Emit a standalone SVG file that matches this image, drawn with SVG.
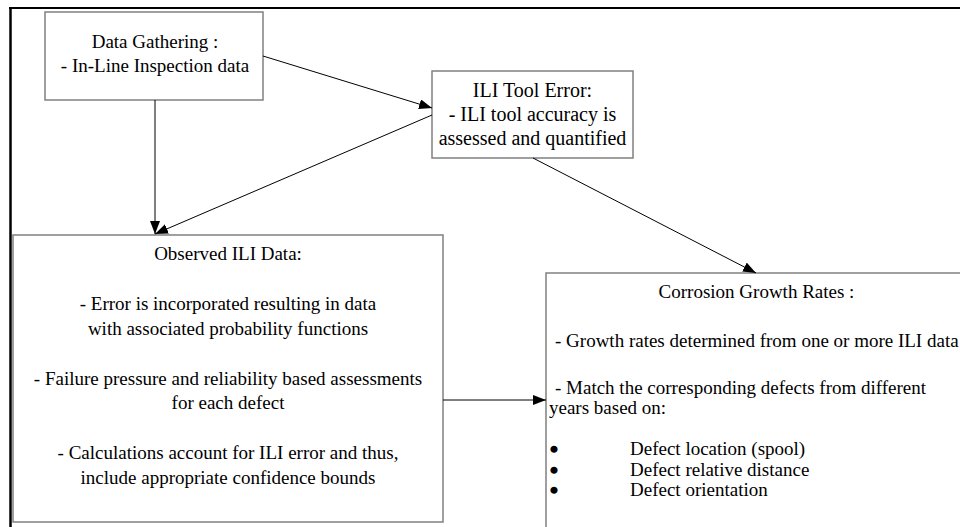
<svg xmlns="http://www.w3.org/2000/svg" width="960" height="527" viewBox="0 0 960 527">
  <defs>
    <marker id="ah" markerWidth="13" markerHeight="10" refX="13" refY="5" orient="auto" markerUnits="userSpaceOnUse">
      <path d="M0,0 L13,5 L0,10 z" fill="#000"/>
    </marker>
    <style>
      .box { fill: #fff; stroke: #808080; stroke-width: 1.5; }
      .t { font-family: "Liberation Serif", "Times New Roman", serif; font-size: 19px; fill: #000; }
      .c { text-anchor: middle; }
      .b { font-family: "Liberation Serif", "Times New Roman", serif; font-size: 17px; font-weight: bold; fill: #000; stroke: #000; stroke-width: 2.5; stroke-linejoin: round; text-anchor: middle; }
      .edge { stroke: #000; stroke-width: 1; fill: none; marker-end: url(#ah); }
    </style>
  </defs>
  <rect width="960" height="527" fill="#fff"/>
  <g id="frame">
    <line x1="10.5" y1="7" x2="10.5" y2="527" stroke="#000" stroke-width="2.5"/>
    <line x1="9" y1="8" x2="960" y2="8" stroke="#000" stroke-width="2"/>
  </g>
  <g id="data-gathering">
    <rect class="box" x="45" y="12" width="218" height="88"/>
    <text class="t c" x="155" y="48">Data Gathering :</text>
    <text class="t c" x="155" y="72">- In-Line Inspection data</text>
  </g>
  <g id="ili-tool-error">
    <rect class="box" x="432" y="71" width="201" height="87"/>
    <text class="t c" x="532.5" y="97" style="font-size:20px">ILI Tool Error:</text>
    <text class="t c" x="532.5" y="121" style="font-size:20px">- ILI tool accuracy is</text>
    <text class="t c" x="532.5" y="145" style="font-size:20px">assessed and quantified</text>
  </g>
  <g id="observed-ili-data">
    <rect class="box" x="13" y="235" width="430" height="287"/>
    <text class="t c" x="228" y="260">Observed ILI Data:</text>
    <text class="t c" x="228" y="310">- Error is incorporated resulting in data</text>
    <text class="t c" x="228" y="334.5">with associated probability functions</text>
    <text class="t c" x="228" y="384.5">- Failure pressure and reliability based assessments</text>
    <text class="t c" x="228" y="409">for each defect</text>
    <text class="t c" x="228" y="459">- Calculations account for ILI error and thus,</text>
    <text class="t c" x="228" y="483.5">include appropriate confidence bounds</text>
  </g>
  <g id="corrosion-growth-rates">
    <rect class="box" x="546" y="273" width="420" height="260"/>
    <text class="t c" x="756.5" y="298">Corrosion Growth Rates :</text>
    <text class="t" x="555" y="346.5">- Growth rates determined from one or more ILI data</text>
    <text class="t" x="555" y="394">- Match the corresponding defects from different</text>
    <text class="t" x="549" y="414">years based on:</text>
    <text class="b" x="554" y="455">•</text>
    <text class="b" x="554" y="475.5">•</text>
    <text class="b" x="554" y="496">•</text>
    <text class="t" x="630" y="455">Defect location (spool)</text>
    <text class="t" x="630" y="475.5">Defect relative distance</text>
    <text class="t" x="630" y="496">Defect orientation</text>
  </g>
  <g id="connectors">
    <line class="edge" x1="155" y1="100" x2="155" y2="234"/>
    <line class="edge" x1="263" y1="56" x2="432" y2="108"/>
    <line class="edge" x1="432" y1="115" x2="155" y2="234"/>
    <line class="edge" x1="533" y1="158" x2="756" y2="273"/>
    <line class="edge" x1="443" y1="400" x2="546" y2="400"/>
  </g>
</svg>
